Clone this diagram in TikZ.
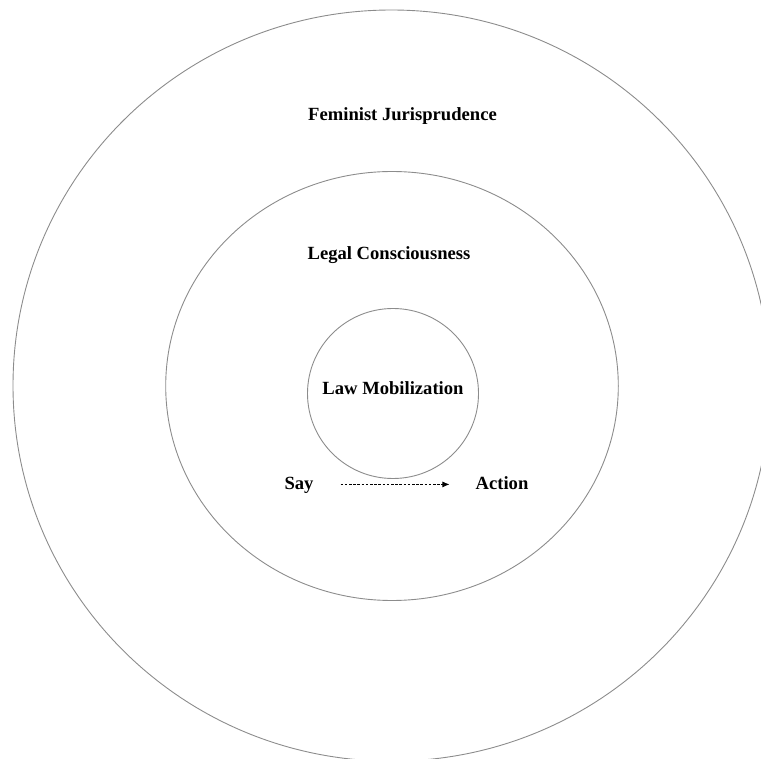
\documentclass[tikz,border=0pt]{standalone}
\usepackage{fontspec}
\setmainfont{Liberation Serif}
\usetikzlibrary{shapes.geometric,arrows.meta}
\begin{document}
\begin{tikzpicture}[x=1pt,y=-1pt,
  ring/.style={draw=black!45,line width=0.9pt,ellipse,inner sep=0pt},
  lbl/.style={font=\fontsize{18.6}{20}\selectfont\bfseries,inner sep=0pt,anchor=base},
  flow/.style={dash pattern=on 2.6pt off 1.6pt,line width=0.8pt,-{Latex[length=7pt,width=6pt]}}]
\useasboundingbox (0,0) rectangle (761,759);
\clip (0,0) rectangle (761,759);
\node[ring,minimum width=757pt,minimum height=751.2pt] (outer) at (391.5,385.6) {};
\node[ring,minimum width=452.6pt,minimum height=429pt] (middle) at (392,386) {};
\node[ring,minimum width=171pt,minimum height=170pt] (inner) at (393,393.5) {};
\node[lbl] (fj) at (402.5,120.7) {Feminist Jurisprudence};
\node[lbl] (lc) at (389,260) {Legal Consciousness};
\node[lbl] (lm) at (393,395) {Law Mobilization};
\node[lbl] (say) at (299,489.5) {Say};
\node[lbl] (act) at (502,489.5) {Action};
\draw[flow,shorten <=27pt,shorten >=26pt] (say.east|-0,484.4) -- (act.west|-0,484.4);
\end{tikzpicture}
\end{document}
